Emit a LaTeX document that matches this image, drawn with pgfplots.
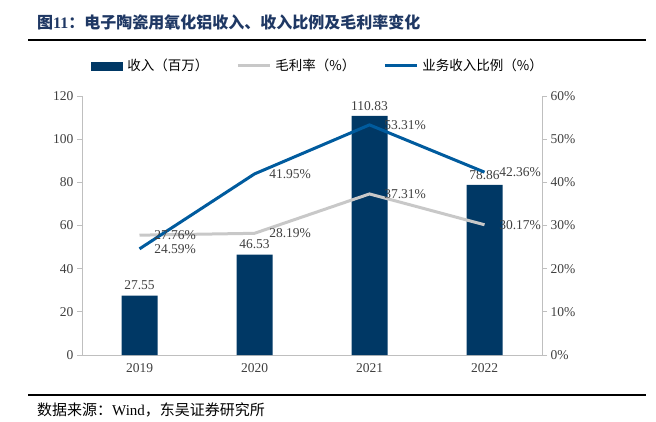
\documentclass[border=0pt]{standalone}
\usepackage{fontspec}
\setmainfont{Liberation Serif}
\newfontfamily\cjk{Noto Sans CJK SC}
\usepackage{pgfplots}
\pgfplotsset{compat=1.18}
\definecolor{barblue}{RGB}{0,56,101}
\definecolor{lineblue}{RGB}{0,91,158}
\definecolor{linegray}{RGB}{200,200,200}
\definecolor{axgray}{RGB}{191,191,191}
\definecolor{txtgray}{RGB}{64,64,64}
\definecolor{titleblue}{RGB}{31,56,100}

\pgfplotsset{
  common/.style={
    scale only axis, width=460pt, height=259pt,
    at={(82pt,66pt)}, anchor=south west,
    xmin=-0.5, xmax=3.5,
    axis line style={draw=axgray, line width=0.8pt},
    tick style={draw=axgray, line width=0.8pt},
    tick align=outside, major tick length=5pt,
    ticklabel style={font=\fontsize{13.5}{15}\selectfont, text=txtgray},
    /pgf/number format/assume math mode=true,
  },
}

\begin{document}
\begin{tikzpicture}[x=1pt,y=1pt]
\useasboundingbox (0,0) rectangle (656,421);

\node[anchor=west, text=titleblue, font=\bfseries\fontsize{16}{18}\selectfont, inner sep=0pt] at (37,399)
  {{\cjk\bfseries 图}11{\cjk\bfseries ：电子陶瓷用氧化铝收入、收入比例及毛利率变化}};
\draw[line width=1.2pt] (28,381) -- (646,381);
\draw[line width=1.2pt] (28,26) -- (646,26);
\node[anchor=west, font=\fontsize{15}{17}\selectfont, inner sep=0pt] at (37,11)
  {{\cjk 数据来源：}Wind{\cjk ，东吴证券研究所}};

\begin{axis}[common,
  ymin=0, ymax=120, ytick={0,20,...,120},
  axis x line*=bottom, axis y line*=left,
  xtick={0,1,2,3}, xticklabels={2019,2020,2021,2022},
  x tick style={draw=none},
  ybar, bar width=36pt,
  nodes near coords,
  every node near coord/.append style={font=\fontsize{13.5}{15}\selectfont, text=txtgray, yshift=2pt},
  point meta=explicit symbolic,
]
\addplot[fill=barblue, draw=none] coordinates {
  (0,27.55) [27.55]
  (1,46.53) [46.53]
  (2,110.83) [110.83]
  (3,78.86) [78.86]
};
\end{axis}

\begin{axis}[common,
  ymin=0, ymax=60, ytick={0,10,...,60},
  axis x line=none, axis y line*=right,
  yticklabel={\pgfmathprintnumber{\tick}\%},
  nodes near coords={\pgfmathprintnumber[fixed,precision=2,fixed zerofill]{\pgfplotspointmeta}\%},
  point meta=y,
  every node near coord/.append style={font=\fontsize{13.5}{15}\selectfont, text=txtgray, anchor=west, xshift=10pt},
  legend style={at={(0.513,1.116)}, anchor=center, draw=none, fill=none,
    legend columns=3, font=\cjk\fontsize{13.5}{15}\selectfont,
    /tikz/every even column/.append style={column sep=26pt}},
  legend image code/.code={\draw[#1] (0pt,0pt) -- (32pt,0pt); \path (34pt,0pt);},
]
\addlegendimage{legend image code/.code={\fill[barblue] (0pt,-4pt) rectangle (31pt,4pt); \path (34pt,0pt);}}
\addlegendentry{收入（百万）}
\addplot[linegray, line width=3pt] coordinates {
  (0,27.76) (1,28.19) (2,37.31) (3,30.17)
};
\addlegendentry{毛利率（\%）}
\addplot[lineblue, line width=3pt] coordinates {
  (0,24.59) (1,41.95) (2,53.31) (3,42.36)
};
\addlegendentry{业务收入比例（\%）}
\end{axis}
\end{tikzpicture}
\end{document}
